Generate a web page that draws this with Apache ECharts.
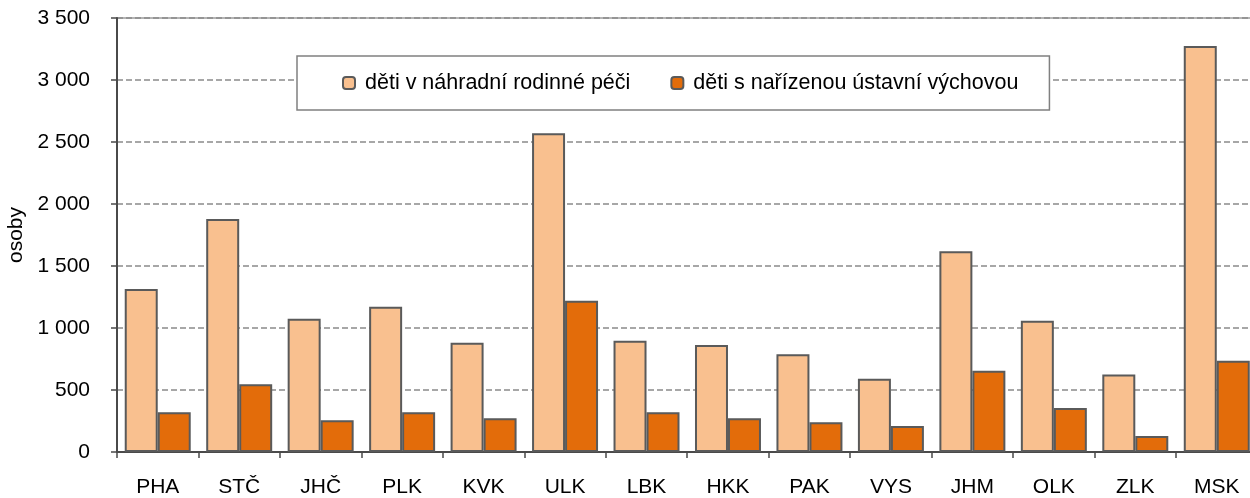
<!DOCTYPE html>
<html>
<head>
    <meta charset="utf-8">
    <title>Děti v náhradní rodinné péči podle krajů</title>
    <script src="https://cdn.jsdelivr.net/npm/echarts@6/dist/echarts.min.js"></script>
</head>
<body style="margin:0">
<div id="container" style="width: 1250px;height: 498px;"></div>
<script type="text/javascript">
    // kraje
    var kraje = ['PHA', 'STČ', 'JHČ', 'PLK', 'KVK', 'ULK', 'LBK', 'HKK', 'PAK', 'VYS', 'JHM', 'OLK', 'ZLK', 'MSK'];
    // děti v náhradní rodinné péči
    var nahradniPece = [1315, 1880, 1075, 1172, 882, 2570, 898, 863, 788, 591, 1618, 1059, 624, 3274];
    // děti s nařízenou ústavní výchovou
    var ustavniVychova = [320, 546, 256, 320, 272, 1220, 320, 272, 239, 210, 656, 355, 129, 736];
    var nazvySerii = ['děti v náhradní rodinné péči', 'děti s nařízenou ústavní výchovou'];

    var font = "'Liberation Sans', Arial, sans-serif";
    var myChart = echarts.init(document.getElementById('container'));

    var option = {
        animation: false,
        backgroundColor: '#ffffff',
        textStyle: {fontFamily: font},
        grid: {
            left: 117,
            top: 18,
            width: 1140.5,
            height: 434,
            outerBoundsMode: 'none',
            containLabel: false,
            show: true,
            borderColor: '#6a6a6a',
            borderWidth: 1
        },
        legend: {
            left: 297,
            top: 56,
            padding: [16, 31, 16, 45],
            itemWidth: 12,
            itemHeight: 12,
            itemGap: 40,
            backgroundColor: '#ffffff',
            borderColor: '#808080',
            borderWidth: 1.5,
            borderRadius: 0,
            textStyle: {
                fontFamily: font,
                fontSize: 21.5,
                color: '#000',
                padding: [0, 0, 0, 5]
            },
            data: nazvySerii
        },
        xAxis: {
            type: 'category',
            data: kraje,
            axisLine: {lineStyle: {color: '#4a4a4a', width: 2}},
            axisTick: {show: true, length: 6, lineStyle: {color: '#4a4a4a', width: 1.5}},
            axisLabel: {
                color: '#000',
                fontFamily: font,
                fontSize: 21,
                margin: 25
            }
        },
        yAxis: {
            type: 'value',
            min: 0,
            max: 3500,
            interval: 500,
            name: 'osoby',
            nameLocation: 'middle',
            nameGap: 86,
            nameTextStyle: {color: '#000', fontFamily: font, fontSize: 21},
            axisLine: {show: true, lineStyle: {color: '#4a4a4a', width: 2}},
            axisTick: {show: true, length: 6, lineStyle: {color: '#4a4a4a', width: 1.5}},
            axisLabel: {
                color: '#000',
                fontFamily: font,
                fontSize: 21,
                margin: 27,
                formatter: function (v) {
                    return String(v).replace(/\B(?=(\d{3})+(?!\d))/g, ' ');
                }
            },
            splitLine: {
                lineStyle: {color: '#8a8a8a', type: [6, 3], width: 1.5}
            }
        },
        series: [
            {
                name: nazvySerii[0],
                type: 'bar',
                data: nahradniPece,
                barGap: '0%',
                barCategoryGap: '19%',
                itemStyle: {color: '#F9C08F', borderColor: '#5a5a5a', borderWidth: 2}
            },
            {
                name: nazvySerii[1],
                type: 'bar',
                data: ustavniVychova,
                itemStyle: {color: '#E36C0A', borderColor: '#5a5a5a', borderWidth: 2}
            }
        ]
    };

    myChart.setOption(option);
</script>
</body>
</html>
